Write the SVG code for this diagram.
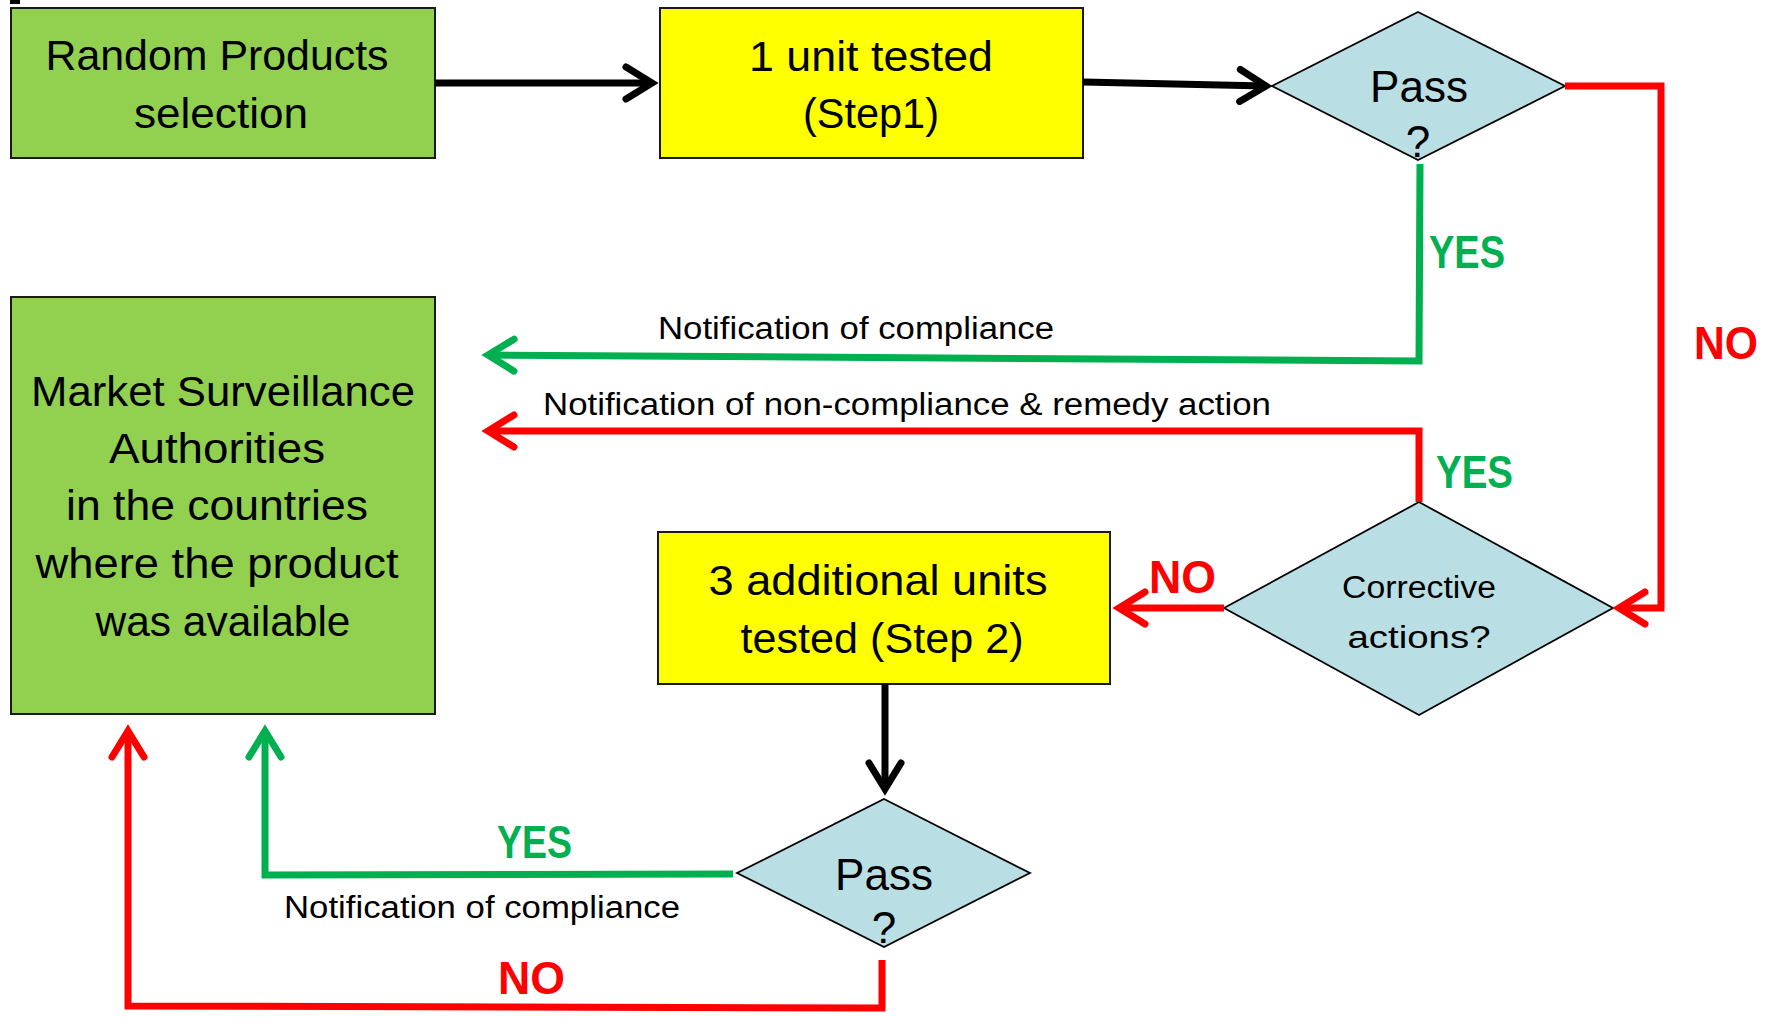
<svg xmlns="http://www.w3.org/2000/svg" width="1775" height="1017" viewBox="0 0 1775 1017">
<style>
  .box-g { fill: #92D050; stroke: #1a1a1a; stroke-width: 2; }
  .box-y { fill: #FFFF00; stroke: #1a1a1a; stroke-width: 2; }
  .dia { fill: #B9DFE4; stroke: #000; stroke-width: 1.8; }
  .t { font-family: "Liberation Sans", Arial, sans-serif; fill: #000; text-anchor: middle; }
  .big { font-size: 43px; }
  .mid { font-size: 31px; }
  .lbl { font-family: "Liberation Sans", Arial, sans-serif; font-size: 31px; fill: #000; }
  .yes { font-family: "Liberation Sans", Arial, sans-serif; font-size: 46px; font-weight: bold; fill: #00B050; }
  .no { font-family: "Liberation Sans", Arial, sans-serif; font-size: 46px; font-weight: bold; fill: #FF0000; }
  .c { fill: none; stroke-width: 7; stroke-linejoin: miter; }
  .ck { stroke: #000; marker-end: url(#ah-k); }
  .cg { stroke: #00B050; marker-end: url(#ah-g); }
  .cr { stroke: #FF0000; marker-end: url(#ah-r); }
</style>
<defs>
  <marker id="ah-k" markerUnits="userSpaceOnUse" viewBox="-34 -22 44 44" markerWidth="44" markerHeight="44" refX="0" refY="0" orient="auto" overflow="visible">
    <path d="M-26,-16 L0,0 L-26,16" fill="none" stroke="#000" stroke-width="7" stroke-linecap="round"/>
  </marker>
  <marker id="ah-g" markerUnits="userSpaceOnUse" viewBox="-34 -22 44 44" markerWidth="44" markerHeight="44" refX="0" refY="0" orient="auto" overflow="visible">
    <path d="M-26,-16 L0,0 L-26,16" fill="none" stroke="#00B050" stroke-width="7" stroke-linecap="round"/>
  </marker>
  <marker id="ah-r" markerUnits="userSpaceOnUse" viewBox="-34 -22 44 44" markerWidth="44" markerHeight="44" refX="0" refY="0" orient="auto" overflow="visible">
    <path d="M-26,-16 L0,0 L-26,16" fill="none" stroke="#FF0000" stroke-width="7" stroke-linecap="round"/>
  </marker>
</defs>
<rect width="1775" height="1017" fill="#fff"/>
<rect x="10" y="0" width="10" height="4" fill="#000"/>

<g id="node-random">
  <rect class="box-g" x="11" y="8" width="424" height="150"/>
  <text class="t big" x="217" y="70" textLength="343" lengthAdjust="spacingAndGlyphs">Random Products</text>
  <text class="t big" x="221" y="128" textLength="174" lengthAdjust="spacingAndGlyphs">selection</text>
</g>
<g id="node-step1">
  <rect class="box-y" x="660" y="8" width="423" height="150"/>
  <text class="t big" x="871" y="71" textLength="244" lengthAdjust="spacingAndGlyphs">1 unit tested</text>
  <text class="t big" x="871" y="128" textLength="136" lengthAdjust="spacingAndGlyphs">(Step1)</text>
</g>
<g id="node-pass1">
  <polygon class="dia" points="1418,12 1565,86 1418,160 1272,86"/>
  <text class="t" font-size="44" x="1419" y="102" textLength="98" lengthAdjust="spacingAndGlyphs">Pass</text>
  <text class="t" font-size="44" x="1418" y="157">?</text>
</g>
<g id="node-msa">
  <rect class="box-g" x="11" y="297" width="424" height="417"/>
  <text class="t big" x="223" y="406" textLength="384" lengthAdjust="spacingAndGlyphs">Market Surveillance</text>
  <text class="t big" x="217" y="463" textLength="216" lengthAdjust="spacingAndGlyphs">Authorities</text>
  <text class="t big" x="217" y="520" textLength="302" lengthAdjust="spacingAndGlyphs">in the countries</text>
  <text class="t big" x="217" y="578" textLength="363" lengthAdjust="spacingAndGlyphs">where the product</text>
  <text class="t big" x="223" y="636" textLength="255" lengthAdjust="spacingAndGlyphs">was available</text>
</g>
<g id="node-corrective">
  <polygon class="dia" points="1419,502 1613,608 1419,715 1224,608"/>
  <text class="t mid" x="1419" y="598" textLength="154" lengthAdjust="spacingAndGlyphs">Corrective</text>
  <text class="t mid" x="1419" y="648" textLength="143" lengthAdjust="spacingAndGlyphs">actions?</text>
</g>
<g id="node-step2">
  <rect class="box-y" x="658" y="532" width="452" height="152"/>
  <text class="t big" x="878" y="595" textLength="339" lengthAdjust="spacingAndGlyphs">3 additional units</text>
  <text class="t big" x="882" y="653" textLength="283" lengthAdjust="spacingAndGlyphs">tested (Step 2)</text>
</g>
<g id="node-pass2">
  <polygon class="dia" points="884,799 1030,873 884,947 737,873"/>
  <text class="t" font-size="44" x="884" y="890" textLength="98" lengthAdjust="spacingAndGlyphs">Pass</text>
  <text class="t" font-size="44" x="884" y="943">?</text>
</g>

<g id="connectors">
  <path class="c ck" d="M435,83 L652,83"/>
  <path class="c ck" d="M1083,82 L1266,86"/>
  <path class="c cr" d="M1565,86 L1661,86 L1661,608 L1619,608"/>
  <path class="c cg" d="M1420,164 L1419,361 L488,355"/>
  <path class="c cr" d="M1419,502 L1419,431 L488,431"/>
  <path class="c cr" d="M1224,608 L1119,608"/>
  <path class="c ck" d="M885,684 L885,789"/>
  <path class="c cg" d="M733,874 L265,875 L265,731"/>
  <path class="c cr" d="M882,960 L882,1008 L128,1006 L128,731"/>

  <text class="no" x="1694" y="359" textLength="64" lengthAdjust="spacingAndGlyphs">NO</text>
  <text class="yes" x="1429" y="268" textLength="76" lengthAdjust="spacingAndGlyphs">YES</text>
  <text class="lbl" x="658" y="339" textLength="396" lengthAdjust="spacingAndGlyphs">Notification of compliance</text>
  <text class="lbl" x="543" y="415" textLength="728" lengthAdjust="spacingAndGlyphs">Notification of non-compliance &amp; remedy action</text>
  <text class="yes" x="1436" y="488" textLength="77" lengthAdjust="spacingAndGlyphs">YES</text>
  <text class="no" x="1149" y="593" textLength="67" lengthAdjust="spacingAndGlyphs">NO</text>
  <text class="yes" x="497" y="858" textLength="75" lengthAdjust="spacingAndGlyphs">YES</text>
  <text class="lbl" x="284" y="918" textLength="396" lengthAdjust="spacingAndGlyphs">Notification of compliance</text>
  <text class="no" x="498" y="994" textLength="67" lengthAdjust="spacingAndGlyphs">NO</text>
</g>
</svg>
